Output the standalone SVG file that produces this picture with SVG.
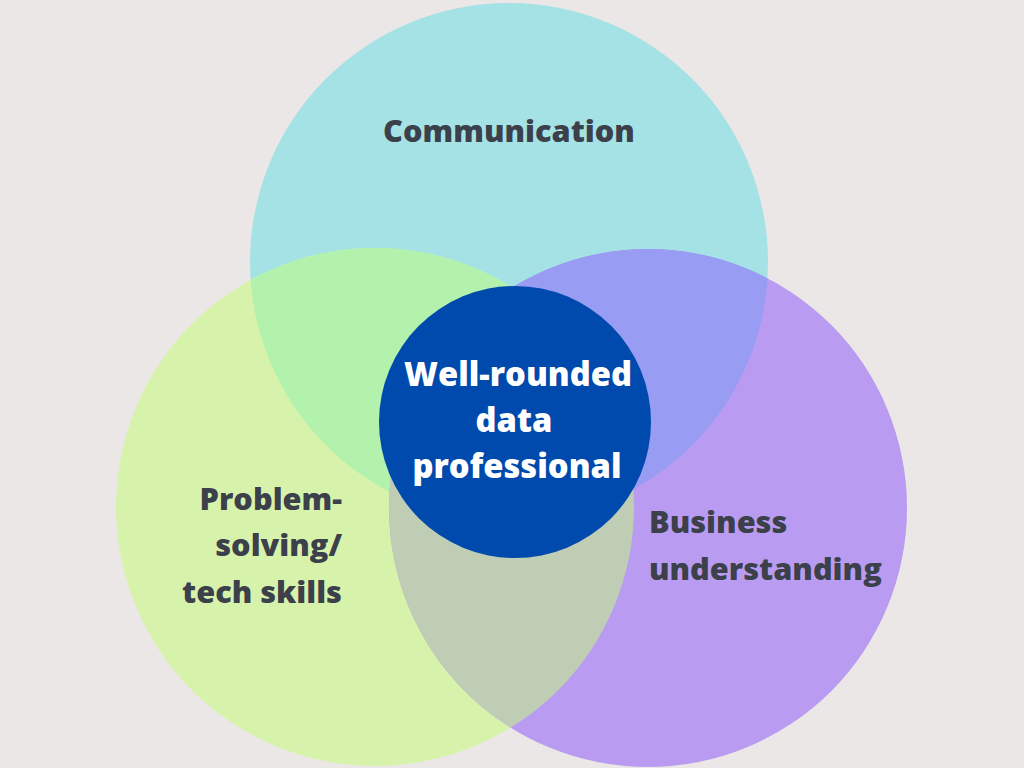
<svg xmlns="http://www.w3.org/2000/svg" width="1024" height="768" viewBox="0 0 1024 768">
  <style>
    .lbl { font-family: "Open Sans", "Liberation Sans", sans-serif; font-weight: 800; font-size: 30.7px; fill: #3b404b; }
    .ctr { font-family: "Open Sans", "Liberation Sans", sans-serif; font-weight: 800; font-size: 32.7px; fill: #ffffff; text-anchor: middle; }
  </style>
  <defs>
    <clipPath id="clipTop"><circle cx="509" cy="262" r="259"/></clipPath>
    <clipPath id="clipLeft"><circle cx="375" cy="507" r="259"/></clipPath>
  </defs>
  <rect width="1024" height="768" fill="#ebe7e6"/>
  <g id="node-communication">
    <circle cx="509" cy="262" r="259" fill="#a4e2e6"/>
  </g>
  <g id="node-problem-solving">
    <circle cx="375" cy="507" r="259" fill="#d7f3ab"/>
  </g>
  <g id="node-business">
    <circle cx="648" cy="508" r="259" fill="#b99cf1"/>
  </g>
  <g id="overlaps">
    <circle cx="375" cy="507" r="259" fill="#b2f2ad" clip-path="url(#clipTop)"/>
    <circle cx="648" cy="508" r="259" fill="#989cf2" clip-path="url(#clipTop)"/>
    <g clip-path="url(#clipLeft)">
      <circle cx="648" cy="508" r="259" fill="#c0cdb5"/>
    </g>
  </g>
  <g id="node-center">
    <circle cx="515" cy="422" r="136" fill="#004aad"/>
    <text class="ctr" x="518" y="386">Well-rounded</text>
    <text class="ctr" x="514" y="432">data</text>
    <text class="ctr" x="517" y="478">professional</text>
  </g>
  <g id="labels">
    <text class="lbl" x="509" y="142" text-anchor="middle">Communication</text>
    <text class="lbl" x="342" y="510" text-anchor="end">Problem-</text>
    <text class="lbl" x="342" y="556" text-anchor="end">solving/</text>
    <text class="lbl" x="342" y="603" text-anchor="end">tech skills</text>
    <text class="lbl" x="649" y="533">Business</text>
    <text class="lbl" x="649" y="580">understanding</text>
  </g>
  <g id="connectors"></g>
</svg>
